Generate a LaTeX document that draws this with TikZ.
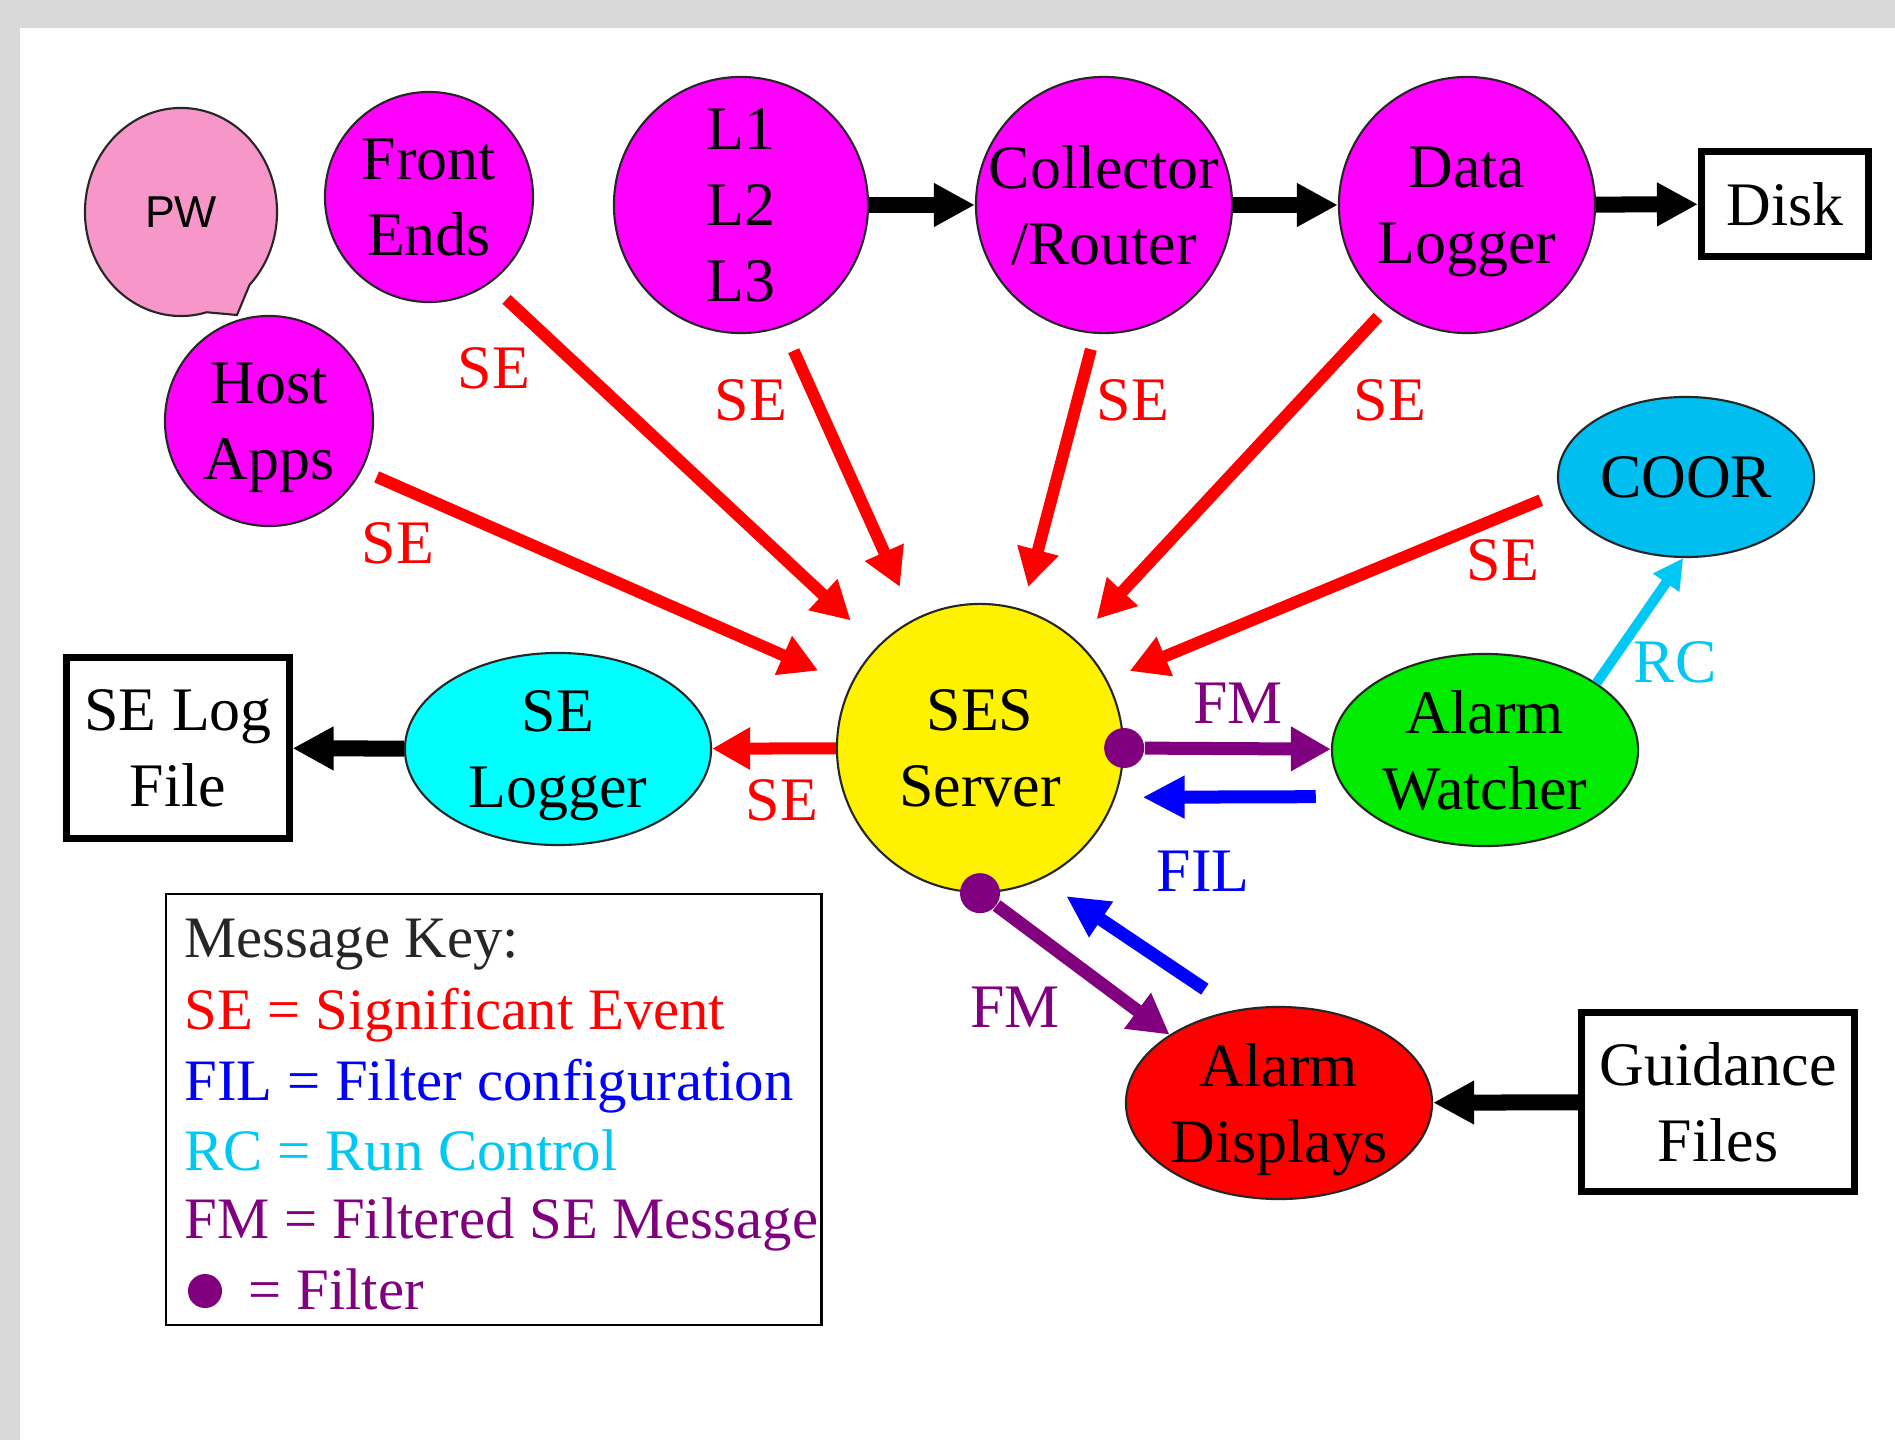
\documentclass[tikz,border=0pt]{standalone}
\usepackage{fontspec}
\setmainfont{Liberation Serif}
\newfontfamily\pwfont{Liberation Sans}
\usetikzlibrary{shapes.geometric,shapes.callouts,arrows.meta}

\definecolor{backgray}{RGB}{217,217,217}
\definecolor{pwpink}{RGB}{247,150,200}
\definecolor{nodemag}{RGB}{255,0,255}
\definecolor{coorblue}{RGB}{0,190,240}
\definecolor{rcblue}{RGB}{0,200,245}
\definecolor{logcyan}{RGB}{0,255,255}
\definecolor{watchgreen}{RGB}{0,235,0}
\definecolor{fmpurple}{RGB}{128,0,128}
\definecolor{filblue}{RGB}{0,0,255}

\newcommand{\nodefont}{\fontsize{17.6}{21.5}\selectfont}
\newcommand{\keyfont}{\fontsize{16.7}{20}\selectfont}

\begin{document}
\begin{tikzpicture}[x=0.01cm,y=-0.01cm,
  bubble/.style={ellipse,draw=black!85,line width=0.6pt,inner sep=0pt},
  every label/.style={align=center,font=\nodefont,text depth=0pt,inner sep=0pt},
  filebox/.style={rectangle,draw,line width=0.07cm,fill=white,align=center,
    inner sep=0pt,font=\nodefont,text depth=0pt},
  msg/.style={font=\nodefont,inner sep=0pt},
  keyline/.style={font=\keyfont,inner sep=0pt,anchor=base west},
  filterdot/.style={circle,fill=fmpurple,minimum size=0.40cm,inner sep=0pt},
  flow/.style={-{Triangle[length=0.41cm,width=0.41cm]},line width=0.16cm},
  se/.style={-{Triangle[length=0.38cm,width=0.40cm]},red,line width=0.12cm},
  fm/.style={-{Triangle[length=0.40cm,width=0.42cm]},fmpurple,line width=0.13cm},
  fil/.style={-{Triangle[length=0.42cm,width=0.40cm]},filblue,line width=0.13cm},
  rc/.style={-{Triangle[length=0.30cm,width=0.30cm]},rcblue,line width=0.10cm}]

\useasboundingbox (0,0) rectangle (1895,1440);
\fill[backgray] (0,0) rectangle (1895,1440);
\fill[white] (20,28) rectangle (1895,1440);

\coordinate (pwtip) at (237,315);

\node[bubble,ellipse callout,fill=pwpink,callout absolute pointer={(pwtip)},
  callout pointer arc=30,minimum width=1.92cm,minimum height=2.08cm,
  font=\pwfont\fontsize{12.7}{15}\selectfont]
(pw)
at (181,212)
{PW};

\node[bubble,fill=nodemag,minimum width=2.08cm,minimum height=2.10cm,label={center:Front\\Ends}]
(front)
at (429,197)
{};

\node[bubble,fill=nodemag,minimum width=2.08cm,minimum height=2.10cm,label={center:Host\\Apps}]
(host)
at (269,421)
{};

\node[bubble,fill=nodemag,minimum width=2.54cm,minimum height=2.56cm,label={center:L1\\L2\\L3}]
(l123)
at (741,205)
{};

\node[bubble,fill=nodemag,minimum width=2.56cm,minimum height=2.56cm,label={center:Collector\\/Router}]
(coll)
at (1104,205)
{};

\node[bubble,fill=nodemag,minimum width=2.56cm,minimum height=2.56cm,label={center:Data\\Logger}]
(dlog)
at (1467,205)
{};

\node[filebox,minimum width=1.67cm,minimum height=1.04cm]
(disk)
at (1785,204)
{Disk};

\node[bubble,fill=coorblue,minimum width=2.56cm,minimum height=1.60cm,label={center:COOR}]
(coor)
at (1686,477)
{};

\node[bubble,fill=yellow,minimum width=2.86cm,minimum height=2.88cm,label={center:SES\\Server}]
(ses)
at (980,748)
{};

\node[bubble,fill=watchgreen,minimum width=3.06cm,minimum height=1.92cm,label={center:Alarm\\Watcher}]
(watch)
at (1485,750)
{};

\node[bubble,fill=red,minimum width=3.06cm,minimum height=1.92cm,label={center:Alarm\\Displays}]
(disp)
at (1279,1103)
{};

\node[bubble,fill=logcyan,minimum width=3.06cm,minimum height=1.92cm,label={center:SE\\Logger}]
(selog)
at (558,749)
{};

\node[filebox,minimum width=2.22cm,minimum height=1.80cm]
(logfile)
at (178,748)
{SE Log\\File};

\node[filebox,minimum width=2.72cm,minimum height=1.79cm]
(guide)
at (1718,1102)
{Guidance\\Files};

\node[filterdot]
(filt1)
at (ses.east)
{};

\node[filterdot]
(filt2)
at (ses.south)
{};

\draw[flow]
(l123)--(coll);

\draw[flow]
(coll)--(dlog);

\draw[flow]
(dlog)--(disk);

\draw[flow]
(selog)--(logfile);

\draw[flow]
(guide)--(disp);

\draw[se,shorten <=0.23cm,shorten >=0.37cm]
(front.-55)--(ses.135);

\draw[se,shorten <=0.26cm,shorten >=0.35cm]
(l123.-71)--(ses.117);

\draw[se,shorten <=0.16cm,shorten >=0.23cm]
(coll.-94)--(ses.73);

\draw[se,shorten <=0.14cm,shorten >=0.29cm]
(dlog.-128)--(ses.48);

\draw[se,shorten <=0.20cm,shorten >=0.24cm]
(coor.-173)--(ses.28);

\draw[se,shorten <=0.16cm,shorten >=0.35cm]
(host.-28)--(ses.154);

\draw[se]
(ses)--(selog);

\draw[fm]
(filt1)--(watch);

\draw[fil,shorten <=0.34cm,shorten >=0.27cm]
(watch.-161)--(ses.-20);

\draw[fm]
(filt2)--(disp.148);

\draw[fil,shorten <=0.37cm,shorten >=0.30cm]
(disp.115)--(ses.-65);

\draw[rc]
(watch.31)--(coor.-92);

\node[msg,text=red] (seFront) at (494,368) {SE};
\node[msg,text=red] (seHost) at (398,543) {SE};
\node[msg,text=red] (seLevels) at (751,400) {SE};
\node[msg,text=red] (seColl) at (1133,400) {SE};
\node[msg,text=red] (seData) at (1390,400) {SE};
\node[msg,text=red] (seCoor) at (1503,560) {SE};
\node[msg,text=red] (seLog) at (782,800) {SE};
\node[msg,text=fmpurple] (fmWatch) at (1238,703) {FM};
\node[msg,text=filblue] (filWatch) at (1203,871) {FIL};
\node[msg,text=fmpurple] (fmDisp) at (1015,1007) {FM};
\node[msg,text=rcblue] (rcCoor) at (1675,662) {RC};

\node[draw,line width=0.6pt,minimum width=6.55cm,minimum height=4.31cm,anchor=north west,inner sep=0pt]
(key)
at (165,893)
{};

\node[keyline,text=black!85] (keyHead) at (184,957) {Message Key:};
\node[keyline,text=red] (keySE) at (184,1029) {SE = Significant Event};
\node[keyline,text=filblue] (keyFIL) at (184,1100) {FIL = Filter configuration};
\node[keyline,text=rcblue] (keyRC) at (184,1170) {RC = Run Control};
\node[keyline,text=fmpurple] (keyFM) at (184,1238) {FM = Filtered SE Message};
\node[filterdot,minimum size=0.34cm] (keyDot) at (205,1291) {};
\node[keyline,text=fmpurple] (keyFilter) at (248,1309) {= Filter};

\end{tikzpicture}
\end{document}
